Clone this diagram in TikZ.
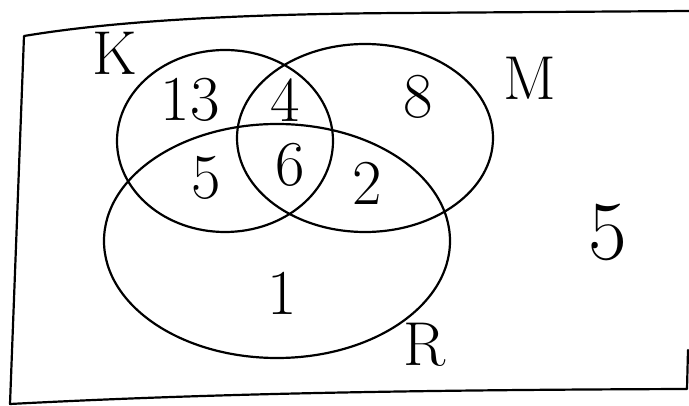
\documentclass[tikz,border=0pt]{standalone}
\usepackage{tikz}
\usetikzlibrary{positioning}

\begin{document}
\begin{tikzpicture}[
  x=1pt, y=-1pt,
  line width=2.2pt, line cap=round, line join=round,
  setname/.style={font=\fontsize{62}{62}\selectfont, inner sep=0pt},
  num/.style={font=\fontsize{64}{64}\selectfont, inner sep=0pt}
]
\useasboundingbox (0,0) rectangle (689,406);
% universe (open on the upper right, as drawn)
\draw (689,11) -- (400,13) .. controls (250,14) and (120,20) .. (24,36)
  -- (10,404) .. controls (200,394) and (400,390) .. (687,389) -- (688,350);
% the three sets
\draw (225,141) ellipse [x radius=108, y radius=91];
\draw (365,138) ellipse [x radius=128, y radius=94];
\draw (277,241) ellipse [x radius=173, y radius=117];
% set names
\node[setname] (k) at (115,53) {K};
\node[setname] (m) at (530,78) {M};
\node[setname] (r) at (425,345) {R};
% counts
\node[num] (konly) at (190,100) {13};
\node[num] (km) at (285,100) {4};
\node[num] (monly) at (418,97) {8};
\node[num] (kr) at (206,178) {5};
\node[num] (kmr) at (290,165) {6};
\node[num] (mr) at (367,183) {2};
\node[num] (ronly) at (282,293) {1};
\node[num, font=\fontsize{84}{84}\selectfont] (none) at (608,232) {5};
\end{tikzpicture}
\end{document}
